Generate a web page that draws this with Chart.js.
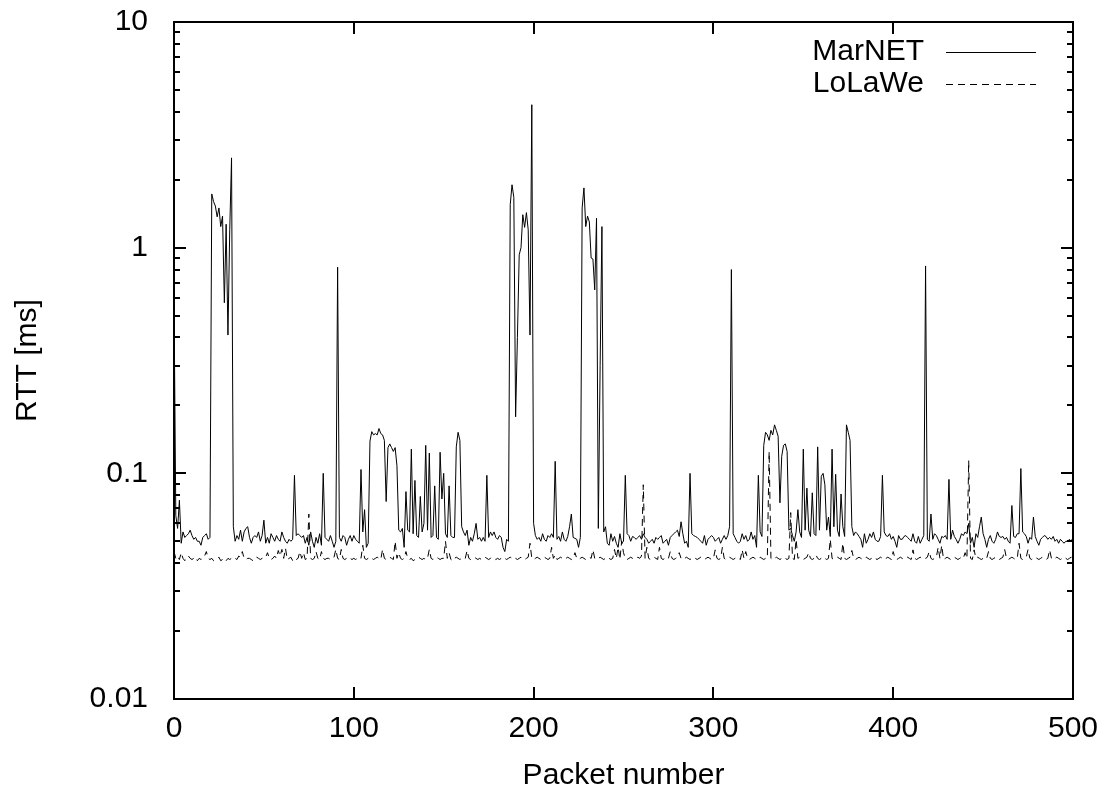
<!DOCTYPE html>
<html lang="en">
<head>
    <meta charset="UTF-8">
    <title>RTT per packet</title>
    <script src="https://cdn.jsdelivr.net/npm/chart.js"></script>
    <style>
        body { margin: 0; background: #fff; }
        canvas { display: block; }
    </style>
</head>
<body>
    <canvas id="rttChart" width="1110" height="792"></canvas>
<script>
    // RTT in ms, one value per packet (0..500)
    let marnetRtt = [
        0.6, 0.065, 0.057, 0.076, 0.049, 0.055, 0.052, 0.053, 0.054, 0.056,
        0.053, 0.051, 0.052, 0.05, 0.05, 0.048, 0.052, 0.053, 0.054, 0.051,
        0.052, 1.73, 1.6, 1.53, 1.37, 1.5, 1.24, 1.38, 0.57, 1.27,
        0.41, 1.2, 2.5, 0.058, 0.05, 0.053, 0.051, 0.056, 0.05, 0.055,
        0.057, 0.058, 0.052, 0.049, 0.052, 0.053, 0.052, 0.055, 0.05, 0.053,
        0.062, 0.049, 0.052, 0.049, 0.054, 0.052, 0.05, 0.053, 0.051, 0.05,
        0.055, 0.052, 0.05, 0.049, 0.051, 0.05, 0.051, 0.098, 0.053, 0.054,
        0.053, 0.052, 0.053, 0.049, 0.052, 0.048, 0.055, 0.05, 0.047, 0.052,
        0.049, 0.054, 0.048, 0.1, 0.052, 0.051, 0.05, 0.053, 0.05, 0.047,
        0.05, 0.82, 0.052, 0.05, 0.053, 0.052, 0.048, 0.051, 0.053, 0.05,
        0.053, 0.051, 0.05, 0.049, 0.104, 0.055, 0.069, 0.047, 0.049, 0.139,
        0.153, 0.148, 0.15, 0.148, 0.158, 0.15, 0.148, 0.14, 0.075, 0.13,
        0.135, 0.13, 0.125, 0.13, 0.108, 0.056, 0.055, 0.057, 0.047, 0.083,
        0.056, 0.055, 0.128, 0.054, 0.093, 0.053, 0.052, 0.079, 0.055, 0.06,
        0.133, 0.056, 0.123, 0.052, 0.053, 0.088, 0.052, 0.051, 0.124, 0.077,
        0.1, 0.054, 0.052, 0.088, 0.053, 0.052, 0.052, 0.131, 0.152, 0.14,
        0.058, 0.055, 0.053, 0.056, 0.048, 0.052, 0.05, 0.054, 0.06, 0.051,
        0.052, 0.05, 0.052, 0.05, 0.098, 0.052, 0.055, 0.053, 0.055, 0.052,
        0.051, 0.053, 0.052, 0.047, 0.045, 0.051, 0.05, 1.55, 1.9, 1.67,
        0.178, 0.4, 0.93, 1.0, 1.4, 1.23, 1.43, 1.2, 0.41, 4.3,
        0.06, 0.053, 0.051, 0.052, 0.05, 0.054, 0.051, 0.05, 0.053, 0.052,
        0.054, 0.052, 0.113, 0.051, 0.0525, 0.05, 0.055, 0.051, 0.05, 0.0525,
        0.058, 0.066, 0.052, 0.0515, 0.051, 0.047, 0.052, 1.5, 1.84, 1.24,
        1.38, 1.3, 0.9, 0.89, 0.65, 1.35, 0.057, 0.3, 1.24, 0.055,
        0.058, 0.049, 0.048, 0.054, 0.05, 0.0525, 0.049, 0.047, 0.054, 0.049,
        0.05, 0.098, 0.054, 0.053, 0.05, 0.0525, 0.052, 0.051, 0.052, 0.053,
        0.051, 0.054, 0.052, 0.051, 0.049, 0.05, 0.051, 0.049, 0.052, 0.051,
        0.052, 0.053, 0.049, 0.05, 0.051, 0.048, 0.052, 0.053, 0.054, 0.055,
        0.056, 0.0525, 0.061, 0.054, 0.049, 0.05, 0.047, 0.1, 0.054, 0.053,
        0.0525, 0.052, 0.051, 0.05, 0.049, 0.053, 0.048, 0.051, 0.052, 0.053,
        0.052, 0.05, 0.051, 0.052, 0.049, 0.051, 0.053, 0.051, 0.053, 0.058,
        0.8, 0.054, 0.052, 0.05, 0.049, 0.05, 0.054, 0.051, 0.053, 0.05,
        0.051, 0.055, 0.051, 0.053, 0.047, 0.098, 0.055, 0.0525, 0.133, 0.152,
        0.148, 0.14, 0.155, 0.148, 0.164, 0.155, 0.146, 0.074, 0.119, 0.133,
        0.135, 0.125, 0.056, 0.057, 0.053, 0.05, 0.055, 0.069, 0.055, 0.052,
        0.128, 0.056, 0.086, 0.056, 0.0525, 0.082, 0.054, 0.053, 0.131, 0.056,
        0.097, 0.1, 0.089, 0.056, 0.064, 0.0525, 0.128, 0.058, 0.099, 0.056,
        0.0525, 0.081, 0.058, 0.0525, 0.164, 0.152, 0.14, 0.058, 0.053, 0.055,
        0.054, 0.0525, 0.051, 0.047, 0.054, 0.049, 0.051, 0.054, 0.052, 0.055,
        0.051, 0.05, 0.05, 0.0525, 0.098, 0.055, 0.053, 0.0525, 0.054, 0.051,
        0.0525, 0.05, 0.047, 0.053, 0.051, 0.051, 0.0525, 0.053, 0.052, 0.051,
        0.05, 0.054, 0.05, 0.049, 0.0525, 0.049, 0.051, 0.053, 0.83, 0.051,
        0.05, 0.066, 0.051, 0.054, 0.053, 0.051, 0.049, 0.0525, 0.052, 0.053,
        0.051, 0.094, 0.051, 0.056, 0.0525, 0.051, 0.049, 0.051, 0.054, 0.053,
        0.055, 0.054, 0.06, 0.049, 0.052, 0.047, 0.054, 0.052, 0.058, 0.064,
        0.054, 0.051, 0.047, 0.051, 0.053, 0.05, 0.049, 0.051, 0.055, 0.0525,
        0.052, 0.0525, 0.051, 0.052, 0.05, 0.049, 0.072, 0.0525, 0.052, 0.054,
        0.054, 0.105, 0.055, 0.054, 0.0525, 0.049, 0.052, 0.051, 0.064, 0.0525,
        0.05, 0.048, 0.051, 0.052, 0.053, 0.0525, 0.051, 0.052, 0.051, 0.0525,
        0.05, 0.051, 0.049, 0.051, 0.05, 0.049, 0.05, 0.05, 0.051, 0.05,
        0.052
    ];

    let lolaweRtt = [
        0.045, 0.042, 0.043, 0.0415, 0.0445, 0.042, 0.041, 0.0425, 0.043, 0.042,
        0.0415, 0.042, 0.0425, 0.041, 0.042, 0.0415, 0.042, 0.043, 0.045, 0.042,
        0.0415, 0.042, 0.041, 0.0415, 0.042, 0.0425, 0.041, 0.0415, 0.042, 0.041,
        0.042, 0.0415, 0.042, 0.0425, 0.042, 0.0415, 0.043, 0.0425, 0.045, 0.042,
        0.0415, 0.042, 0.042, 0.0415, 0.041, 0.042, 0.0425, 0.042, 0.0415, 0.042,
        0.042, 0.0425, 0.0445, 0.042, 0.0415, 0.042, 0.043, 0.042, 0.0455, 0.043,
        0.046, 0.042, 0.0465, 0.0415, 0.042, 0.0425, 0.041, 0.042, 0.0415, 0.042,
        0.045, 0.042, 0.0445, 0.0415, 0.042, 0.066, 0.042, 0.0415, 0.042, 0.045,
        0.042, 0.0415, 0.045, 0.042, 0.0415, 0.042, 0.042, 0.0415, 0.042, 0.0425,
        0.046, 0.042, 0.0415, 0.046, 0.042, 0.0415, 0.042, 0.0425, 0.042, 0.0415,
        0.042, 0.0415, 0.042, 0.0425, 0.042, 0.048, 0.042, 0.0415, 0.042, 0.0415,
        0.042, 0.0415, 0.042, 0.0425, 0.042, 0.0415, 0.046, 0.042, 0.0415, 0.042,
        0.0425, 0.042, 0.0415, 0.05, 0.042, 0.0445, 0.042, 0.0415, 0.042, 0.045,
        0.042, 0.0415, 0.042, 0.041, 0.0415, 0.042, 0.0425, 0.042, 0.0415, 0.042,
        0.0415, 0.042, 0.046, 0.042, 0.0415, 0.042, 0.0425, 0.042, 0.0415, 0.042,
        0.042, 0.05, 0.042, 0.0445, 0.0415, 0.041, 0.042, 0.0425, 0.042, 0.0415,
        0.042, 0.0415, 0.042, 0.0455, 0.042, 0.0415, 0.042, 0.0425, 0.042, 0.0415,
        0.042, 0.0415, 0.042, 0.0425, 0.042, 0.0415, 0.042, 0.0425, 0.042, 0.0415,
        0.042, 0.0415, 0.042, 0.0425, 0.042, 0.0415, 0.042, 0.0425, 0.042, 0.0415,
        0.042, 0.0415, 0.042, 0.0425, 0.042, 0.0415, 0.042, 0.0425, 0.049, 0.042,
        0.0415, 0.042, 0.0425, 0.042, 0.0415, 0.042, 0.0425, 0.042, 0.0415, 0.042,
        0.047, 0.042, 0.0435, 0.0415, 0.042, 0.0425, 0.042, 0.0415, 0.042, 0.0425,
        0.042, 0.0415, 0.042, 0.0445, 0.042, 0.0415, 0.042, 0.0425, 0.042, 0.0415,
        0.042, 0.0425, 0.042, 0.0458, 0.042, 0.0415, 0.042, 0.0425, 0.042, 0.0415,
        0.042, 0.0425, 0.042, 0.0415, 0.042, 0.046, 0.042, 0.047, 0.0415, 0.05,
        0.0445, 0.042, 0.0415, 0.042, 0.0425, 0.042, 0.0415, 0.042, 0.0425, 0.042,
        0.043, 0.089, 0.042, 0.047, 0.042, 0.0415, 0.042, 0.0425, 0.042, 0.0415,
        0.047, 0.042, 0.0415, 0.042, 0.0425, 0.042, 0.045, 0.042, 0.0415, 0.042,
        0.0425, 0.0445, 0.042, 0.0415, 0.042, 0.0425, 0.042, 0.0415, 0.042, 0.0425,
        0.042, 0.0415, 0.042, 0.0425, 0.042, 0.0415, 0.042, 0.0425, 0.042, 0.0415,
        0.042, 0.0458, 0.042, 0.0415, 0.042, 0.047, 0.042, 0.0415, 0.042, 0.0425,
        0.042, 0.0415, 0.042, 0.0425, 0.042, 0.0415, 0.0458, 0.042, 0.045, 0.042,
        0.0415, 0.042, 0.0425, 0.042, 0.0415, 0.042, 0.0425, 0.042, 0.0415, 0.042,
        0.042, 0.125, 0.042, 0.0415, 0.042, 0.0425, 0.042, 0.0415, 0.042, 0.0425,
        0.042, 0.0415, 0.042, 0.067, 0.042, 0.0415, 0.051, 0.042, 0.0425, 0.042,
        0.0415, 0.042, 0.0425, 0.0445, 0.042, 0.0415, 0.042, 0.0435, 0.042, 0.0415,
        0.042, 0.0425, 0.042, 0.0415, 0.042, 0.051, 0.042, 0.0415, 0.042, 0.0425,
        0.042, 0.0415, 0.049, 0.042, 0.0415, 0.042, 0.0425, 0.0455, 0.042, 0.0415,
        0.042, 0.0425, 0.042, 0.0415, 0.042, 0.0425, 0.042, 0.0415, 0.042, 0.0425,
        0.042, 0.0415, 0.042, 0.0425, 0.042, 0.0415, 0.042, 0.0425, 0.042, 0.0415,
        0.045, 0.042, 0.0415, 0.042, 0.0425, 0.042, 0.0415, 0.042, 0.0425, 0.042,
        0.0415, 0.0458, 0.042, 0.0415, 0.042, 0.0425, 0.042, 0.0415, 0.042, 0.0425,
        0.045, 0.042, 0.0415, 0.042, 0.0425, 0.047, 0.042, 0.048, 0.0415, 0.042,
        0.0425, 0.042, 0.0415, 0.042, 0.0425, 0.042, 0.0415, 0.042, 0.0425, 0.042,
        0.0445, 0.042, 0.114, 0.042, 0.0415, 0.0458, 0.042, 0.0425, 0.042, 0.0415,
        0.042, 0.0425, 0.042, 0.045, 0.042, 0.0415, 0.042, 0.0425, 0.042, 0.0415,
        0.042, 0.0425, 0.046, 0.042, 0.0415, 0.042, 0.0425, 0.042, 0.0415, 0.042,
        0.049, 0.042, 0.0415, 0.042, 0.0425, 0.046, 0.042, 0.0415, 0.042, 0.0425,
        0.042, 0.0415, 0.042, 0.0425, 0.042, 0.0415, 0.042, 0.0458, 0.042, 0.0415,
        0.042, 0.0425, 0.042, 0.0415, 0.042, 0.0425, 0.042, 0.0415, 0.042, 0.0425,
        0.042
    ];

    let seriesNames = ["MarNET", "LoLaWe"];
    let packetTicks = [0, 100, 200, 300, 400, 500];
    let rttTicks = [0.01, 0.1, 1, 10];
    let rttMinorSteps = [2, 3, 4, 5, 6, 7, 8, 9];

    const FONT = { family: "'Liberation Sans', Arial, sans-serif", size: 30 };

    // gnuplot style frame: inward ticks mirrored on all four sides, plus the key
    const framePlugin = {
        id: 'frame',
        afterDraw(chart) {
            let ctx = chart.ctx;
            let a = chart.chartArea;
            let xs = chart.scales.x, ys = chart.scales.y;
            ctx.save();
            ctx.strokeStyle = '#000';
            ctx.lineWidth = 2;
            ctx.strokeRect(a.left, a.top, a.right - a.left, a.bottom - a.top);

            ctx.beginPath();
            packetTicks.forEach(v => {
                let px = Math.round(xs.getPixelForValue(v));
                ctx.moveTo(px, a.bottom); ctx.lineTo(px, a.bottom - 12);
                ctx.moveTo(px, a.top); ctx.lineTo(px, a.top + 12);
            });
            rttTicks.forEach(v => {
                let py = Math.round(ys.getPixelForValue(v));
                ctx.moveTo(a.left, py); ctx.lineTo(a.left + 12, py);
                ctx.moveTo(a.right, py); ctx.lineTo(a.right - 12, py);
            });
            rttTicks.slice(0, -1).forEach(d => {
                rttMinorSteps.forEach(m => {
                    let py = Math.round(ys.getPixelForValue(d * m));
                    ctx.moveTo(a.left, py); ctx.lineTo(a.left + 6, py);
                    ctx.moveTo(a.right, py); ctx.lineTo(a.right - 6, py);
                });
            });
            ctx.stroke();

            // key, top right
            ctx.font = FONT.size + 'px ' + FONT.family;
            ctx.fillStyle = '#000';
            ctx.textAlign = 'right';
            ctx.textBaseline = 'middle';
            chart.data.datasets.forEach((ds, i) => {
                let y = a.top + 30 + i * 32;
                ctx.fillText(ds.label, a.right - 149, y);
                ctx.lineWidth = 1;
                ctx.setLineDash(ds.borderDash || []);
                ctx.beginPath();
                ctx.moveTo(a.right - 127, y + 0.5);
                ctx.lineTo(a.right - 37, y + 0.5);
                ctx.stroke();
                ctx.setLineDash([]);
            });
            ctx.restore();
        }
    };

    let ctx = document.getElementById("rttChart").getContext("2d");
    let chart = new Chart(ctx, {
        type: 'line',
        data: {
            datasets: [
                {
                    label: seriesNames[0],
                    data: marnetRtt.map((v, i) => ({ x: i, y: v })),
                    borderColor: "#000",
                    borderWidth: 1,
                    pointRadius: 0,
                    fill: false
                },
                {
                    label: seriesNames[1],
                    data: lolaweRtt.map((v, i) => ({ x: i, y: v })),
                    borderColor: "#000",
                    borderWidth: 1,
                    borderDash: [7, 5],
                    pointRadius: 0,
                    fill: false
                }
            ]
        },
        options: {
            responsive: false,
            animation: false,
            devicePixelRatio: 1,
            layout: { padding: { left: 0, top: 22, right: 37, bottom: 0 } },
            plugins: {
                legend: { display: false },
                tooltip: { enabled: false }
            },
            scales: {
                x: {
                    type: 'linear',
                    min: 0,
                    max: 500,
                    grid: { display: false, drawTicks: false },
                    border: { display: false },
                    afterBuildTicks: s => { s.ticks = packetTicks.map(v => ({ value: v })); },
                    afterFit: s => { s.height = 93; s.paddingLeft = 0; s.paddingRight = 0; },
                    ticks: { color: '#000', font: FONT, padding: 12, maxRotation: 0 },
                    title: { display: true, text: 'Packet number', color: '#000', font: { family: FONT.family, size: 30, lineHeight: 1.1 }, padding: { top: 0, bottom: 0 } }
                },
                y: {
                    type: 'logarithmic',
                    min: 0.01,
                    max: 10,
                    grid: { display: false, drawTicks: false },
                    border: { display: false },
                    afterBuildTicks: s => { s.ticks = rttTicks.map(v => ({ value: v })); },
                    afterFit: s => { s.width = 174; s.paddingTop = 0; s.paddingBottom = 0; },
                    ticks: { color: '#000', font: FONT, padding: 26, callback: v => String(v) },
                    title: { display: true, text: 'RTT [ms]', color: '#000', font: FONT, padding: { top: 10, bottom: 0 } }
                }
            }
        },
        plugins: [framePlugin]
    });
</script>
</body>
</html>
